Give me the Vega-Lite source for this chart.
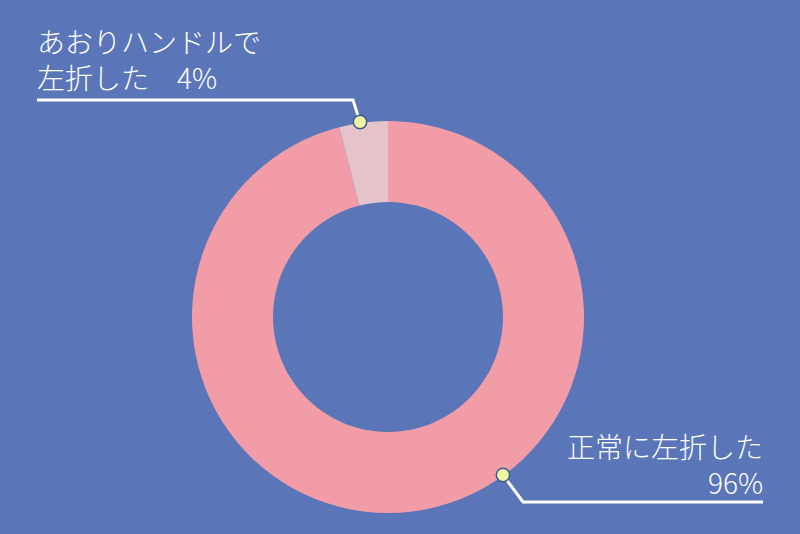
{
  "$schema": "https://vega.github.io/schema/vega-lite/v6.json",
  "width": 800,
  "height": 534,
  "autosize": {"type": "fit", "contains": "padding"},
  "padding": 0,
  "background": "#5a76b9",
  "config": {"view": {"stroke": null}},
  "datasets": {
    "shares": [
      {"answer": "正常に左折した", "pct": 96},
      {"answer": "あおりハンドルで左折した", "pct": 4}
    ],
    "leaders": [
      {"line": "a", "seq": 0, "x": 37, "y": 100},
      {"line": "a", "seq": 1, "x": 353, "y": 100},
      {"line": "a", "seq": 2, "x": 360, "y": 122},
      {"line": "b", "seq": 0, "x": 503, "y": 475},
      {"line": "b", "seq": 1, "x": 523, "y": 502},
      {"line": "b", "seq": 2, "x": 763, "y": 502}
    ],
    "labels": [
      {"text": "あおりハンドルで\n左折した　4%", "x": 37, "y": 53, "side": "left"},
      {"text": "正常に左折した\n96%", "x": 763, "y": 458, "side": "right"}
    ]
  },
  "layer": [
    {
      "data": {"name": "shares"},
      "mark": {"type": "arc", "x": 388, "y": 317, "radius": 196, "radius2": 115},
      "encoding": {
        "theta": {"field": "pct", "type": "quantitative", "stack": true},
        "order": {"field": "pct", "sort": "descending"},
        "color": {
          "field": "answer",
          "type": "nominal",
          "scale": {"domain": ["正常に左折した", "あおりハンドルで左折した"], "range": ["#f29ca7", "#e5c3cb"]},
          "legend": null
        }
      }
    },
    {
      "data": {"name": "leaders"},
      "mark": {"type": "line", "color": "white", "strokeWidth": 3},
      "encoding": {
        "x": {"field": "x", "type": "quantitative", "scale": {"domain": [0, 800], "nice": false, "zero": false}, "axis": null},
        "y": {"field": "y", "type": "quantitative", "scale": {"domain": [0, 534], "nice": false, "zero": false, "reverse": true}, "axis": null},
        "detail": {"field": "line"},
        "order": {"field": "seq"}
      }
    },
    {
      "data": {"name": "leaders"},
      "transform": [{"filter": "(datum.line == 'a' && datum.seq == 2) || (datum.line == 'b' && datum.seq == 0)"}],
      "mark": {"type": "point", "filled": true, "fill": "#edf4a0", "stroke": "#3d5a94", "strokeWidth": 1.5, "size": 180, "opacity": 1},
      "encoding": {
        "x": {"field": "x", "type": "quantitative", "scale": {"domain": [0, 800], "nice": false, "zero": false}, "axis": null},
        "y": {"field": "y", "type": "quantitative", "scale": {"domain": [0, 534], "nice": false, "zero": false, "reverse": true}, "axis": null}
      }
    },
    {
      "data": {"name": "labels"},
      "transform": [{"filter": "datum.side == 'left'"}],
      "mark": {"type": "text", "align": "left", "baseline": "alphabetic", "lineBreak": "\n", "lineHeight": 36, "font": "Noto Sans CJK JP", "fontWeight": 300, "fontSize": 28, "color": "white"},
      "encoding": {
        "x": {"field": "x", "type": "quantitative", "scale": {"domain": [0, 800], "nice": false, "zero": false}, "axis": null},
        "y": {"field": "y", "type": "quantitative", "scale": {"domain": [0, 534], "nice": false, "zero": false, "reverse": true}, "axis": null},
        "text": {"field": "text"}
      }
    },
    {
      "data": {"name": "labels"},
      "transform": [{"filter": "datum.side == 'right'"}],
      "mark": {"type": "text", "align": "right", "baseline": "alphabetic", "lineBreak": "\n", "lineHeight": 36, "font": "Noto Sans CJK JP", "fontWeight": 300, "fontSize": 28, "color": "white"},
      "encoding": {
        "x": {"field": "x", "type": "quantitative", "scale": {"domain": [0, 800], "nice": false, "zero": false}, "axis": null},
        "y": {"field": "y", "type": "quantitative", "scale": {"domain": [0, 534], "nice": false, "zero": false, "reverse": true}, "axis": null},
        "text": {"field": "text"}
      }
    }
  ]
}
